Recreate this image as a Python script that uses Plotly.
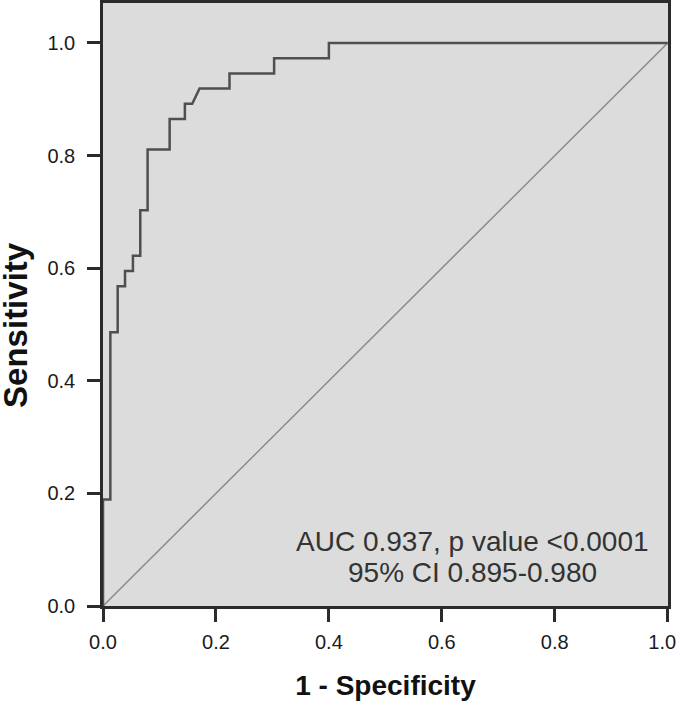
"""
ROC curve: sensitivity vs 1 - specificity.
"""

import plotly.graph_objects as go

# ROC curve corner points
fpr = [0.0, 0.0, 0.013, 0.013, 0.026, 0.026, 0.039, 0.039, 0.053, 0.053,
       0.066, 0.066, 0.079, 0.079, 0.118, 0.118, 0.145, 0.145, 0.158, 0.171,
       0.224, 0.224, 0.303, 0.303, 0.400, 0.400, 1.0]
tpr = [0.0, 0.189, 0.189, 0.486, 0.486, 0.568, 0.568, 0.595, 0.595, 0.622,
       0.622, 0.703, 0.703, 0.811, 0.811, 0.865, 0.865, 0.892, 0.892, 0.919,
       0.919, 0.946, 0.946, 0.973, 0.973, 1.0, 1.0]

# reference (chance) line
ref_x = [0.0, 1.0]
ref_y = [0.0, 1.0]

tick_vals = [0.0, 0.2, 0.4, 0.6, 0.8, 1.0]
tick_text = ["0.0", "0.2", "0.4", "0.6", "0.8", "1.0"]

stats_lines = ["AUC 0.937, p value <0.0001", "95% CI 0.895-0.980"]

FONT = "Liberation Sans, Arial, sans-serif"
FRAME = "#2b2b2b"

fig = go.Figure()
fig.add_trace(go.Scatter(
    x=ref_x, y=ref_y,
    mode="lines",
    line=dict(color="#8a8a8a", width=1.5),
    hoverinfo="skip",
    showlegend=False,
))
fig.add_trace(go.Scatter(
    x=fpr, y=tpr,
    mode="lines",
    line=dict(color="#4f4f4f", width=2.5),
    name="ROC",
    showlegend=False,
))

axis_common = dict(
    tickvals=tick_vals,
    ticks="outside",
    ticklen=13,
    tickwidth=2.5,
    tickcolor=FRAME,
    showline=True,
    linecolor=FRAME,
    linewidth=2.5,
    mirror=True,
    showgrid=False,
    zeroline=False,
    automargin=False,
    ticklabeloverflow="allow",
    tickfont=dict(family=FONT, size=20, color="#1a1a1a"),
)

# last x label nudged left so it stays inside the page, as in the original
x_tick_text = tick_text[:-1] + [tick_text[-1] + "\u00a0\u00a0"]

fig.update_xaxes(
    range=[0, 1.0005],
    ticktext=x_tick_text,
    ticklabelstandoff=3,
    title=dict(text="<b>1 - Specificity</b>",
               font=dict(family=FONT, size=28, color="#111111"),
               standoff=24),
    **axis_common,
)
fig.update_yaxes(
    range=[0, 1.071],
    ticktext=tick_text,
    ticklabelstandoff=8,
    **axis_common,
)

# y title centred on the 0-1 span, as in the original
fig.add_annotation(
    text="<b>Sensitivity</b>",
    xref="paper", yref="y",
    x=-0.155, y=0.5,
    xanchor="center", yanchor="middle",
    textangle=-90,
    showarrow=False,
    font=dict(family=FONT, size=33, color="#111111"),
)

for txt, yv in zip(stats_lines, [0.114, 0.060]):
    fig.add_annotation(
        text=txt,
        xref="x", yref="y",
        x=0.655, y=yv,
        showarrow=False,
        font=dict(family=FONT, size=28, color="#333333"),
    )

fig.update_layout(
    width=680, height=701,
    plot_bgcolor="#dcdcdc",
    paper_bgcolor="white",
    margin=dict(l=103, r=12, t=3, b=95),
)

# drop the browser's default body margin so the figure sits at the page origin
fig.write_html(
    "out.html",
    config={"displayModeBar": False},
    post_script="document.body.style.margin='0';",
)
